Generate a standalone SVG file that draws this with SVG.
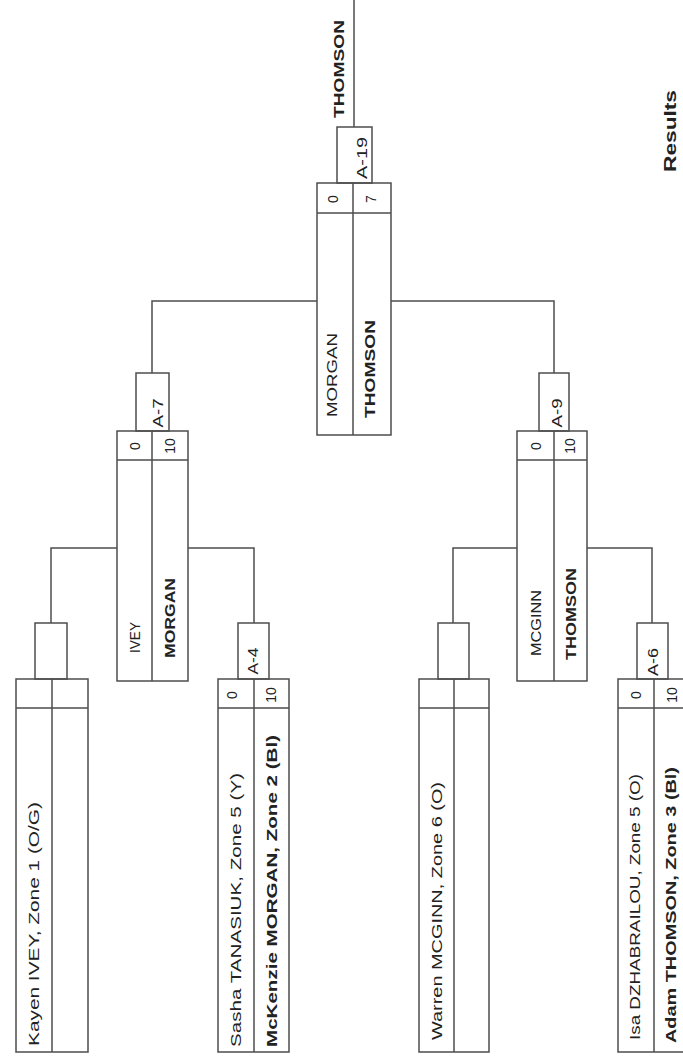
<svg xmlns="http://www.w3.org/2000/svg" width="683" height="1063" viewBox="0 0 683 1063">
<style>
.frame{fill:none;stroke:#4d4d4d;stroke-width:1.5}
.conn{fill:none;stroke:#4d4d4d;stroke-width:1.5}
text{font-family:"Liberation Sans",Arial,sans-serif;fill:#222222}
.nm{font-size:15px}
.b{font-weight:bold}
.sc{font-size:14px;text-anchor:middle}
.lb{font-size:14px;text-anchor:middle}
</style>
<rect width="683" height="1063" fill="#ffffff"/>
<g id="connectors">
<path class="conn" d="M51,623 V548 H117"/>
<path class="conn" d="M254,623 V548 H188"/>
<path class="conn" d="M453,623 V548 H517"/>
<path class="conn" d="M652,623 V548 H587"/>
<path class="conn" d="M152,373 V301 H317"/>
<path class="conn" d="M554,373 V301 H391"/>
<path class="conn" d="M354,127 V0"/>
</g>
<g id="node-kayen">
<rect class="frame" x="35" y="623" width="32" height="56"/>
<rect class="frame" x="16" y="679" width="72" height="373"/>
<path class="frame" d="M52,679 V1052 M16,708 H88"/>
<text class="nm" transform="translate(39,1046) rotate(-90)" textLength="244" lengthAdjust="spacingAndGlyphs">Kayen IVEY, Zone 1 (O/G)</text>
</g>
<g id="node-sasha">
<rect class="frame" x="238" y="623" width="31" height="56"/>
<rect class="frame" x="218" y="679" width="71" height="373"/>
<path class="frame" d="M254,679 V1052 M218,708 H289"/>
<text class="lb" transform="translate(258,661) rotate(-90)" textLength="27" lengthAdjust="spacingAndGlyphs">A-4</text>
<text class="sc" transform="translate(237,695) rotate(-90)">0</text>
<text class="sc" transform="translate(276,695) rotate(-90)">10</text>
<text class="nm" transform="translate(241,1047) rotate(-90)" textLength="274" lengthAdjust="spacingAndGlyphs">Sasha TANASIUK, Zone 5 (Y)</text>
<text class="nm b" transform="translate(277,1047) rotate(-90)" textLength="312" lengthAdjust="spacingAndGlyphs">McKenzie MORGAN, Zone 2 (Bl)</text>
</g>
<g id="node-warren">
<rect class="frame" x="438" y="623" width="31" height="56"/>
<rect class="frame" x="419" y="679" width="70" height="373"/>
<path class="frame" d="M454,679 V1052 M419,708 H489"/>
<text class="nm" transform="translate(442,1040) rotate(-90)" textLength="258" lengthAdjust="spacingAndGlyphs">Warren MCGINN, Zone 6 (O)</text>
</g>
<g id="node-isa">
<rect class="frame" x="637" y="623" width="31" height="56"/>
<rect class="frame" x="618" y="679" width="72" height="373"/>
<path class="frame" d="M654,679 V1052 M618,708 H690"/>
<text class="lb" transform="translate(658,662) rotate(-90)" textLength="28" lengthAdjust="spacingAndGlyphs">A-6</text>
<text class="sc" transform="translate(641,695) rotate(-90)">0</text>
<text class="sc" transform="translate(677,695) rotate(-90)">10</text>
<text class="nm" transform="translate(640,1040) rotate(-90)" textLength="266" lengthAdjust="spacingAndGlyphs">Isa DZHABRAILOU, Zone 5 (O)</text>
<text class="nm b" transform="translate(676,1043) rotate(-90)" textLength="276" lengthAdjust="spacingAndGlyphs">Adam THOMSON, Zone 3 (Bl)</text>
</g>
<g id="node-ivey-morgan">
<rect class="frame" x="136" y="373" width="33" height="58"/>
<rect class="frame" x="117" y="431" width="71" height="250"/>
<path class="frame" d="M152,431 V681 M117,460 H188"/>
<text class="lb" transform="translate(163,413) rotate(-90)" textLength="29" lengthAdjust="spacingAndGlyphs">A-7</text>
<text class="sc" transform="translate(140,446) rotate(-90)">0</text>
<text class="sc" transform="translate(175,446) rotate(-90)">10</text>
<text class="nm" transform="translate(140,653) rotate(-90)" textLength="31" lengthAdjust="spacingAndGlyphs">IVEY</text>
<text class="nm b" transform="translate(175,658) rotate(-90)" textLength="80" lengthAdjust="spacingAndGlyphs">MORGAN</text>
</g>
<g id="node-mcginn-thomson">
<rect class="frame" x="539" y="373" width="30" height="58"/>
<rect class="frame" x="517" y="431" width="70" height="250"/>
<path class="frame" d="M554,431 V681 M517,460 H587"/>
<text class="lb" transform="translate(562,413) rotate(-90)" textLength="29" lengthAdjust="spacingAndGlyphs">A-9</text>
<text class="sc" transform="translate(541,446) rotate(-90)">0</text>
<text class="sc" transform="translate(575,446) rotate(-90)">10</text>
<text class="nm" transform="translate(541,656) rotate(-90)" textLength="66" lengthAdjust="spacingAndGlyphs">MCGINN</text>
<text class="nm b" transform="translate(576,660) rotate(-90)" textLength="92" lengthAdjust="spacingAndGlyphs">THOMSON</text>
</g>
<g id="node-final">
<rect class="frame" x="337" y="127" width="35" height="56"/>
<rect class="frame" x="317" y="183" width="74" height="252"/>
<path class="frame" d="M353,183 V435 M317,213 H391"/>
<text class="lb" transform="translate(367,158) rotate(-90)" textLength="42" lengthAdjust="spacingAndGlyphs">A-19</text>
<text class="sc" transform="translate(338,199) rotate(-90)">0</text>
<text class="sc" transform="translate(376,199) rotate(-90)">7</text>
<text class="nm" transform="translate(337,417) rotate(-90)" textLength="84" lengthAdjust="spacingAndGlyphs">MORGAN</text>
<text class="nm b" transform="translate(375,418) rotate(-90)" textLength="98" lengthAdjust="spacingAndGlyphs">THOMSON</text>
</g>
<g id="winner">
<text class="nm b" transform="translate(344,118) rotate(-90)" textLength="98" lengthAdjust="spacingAndGlyphs">THOMSON</text>
</g>
<g id="title">
<text class="b" style="font-size:17px" transform="translate(676,172) rotate(-90)" textLength="82" lengthAdjust="spacingAndGlyphs">Results</text>
</g>
</svg>
